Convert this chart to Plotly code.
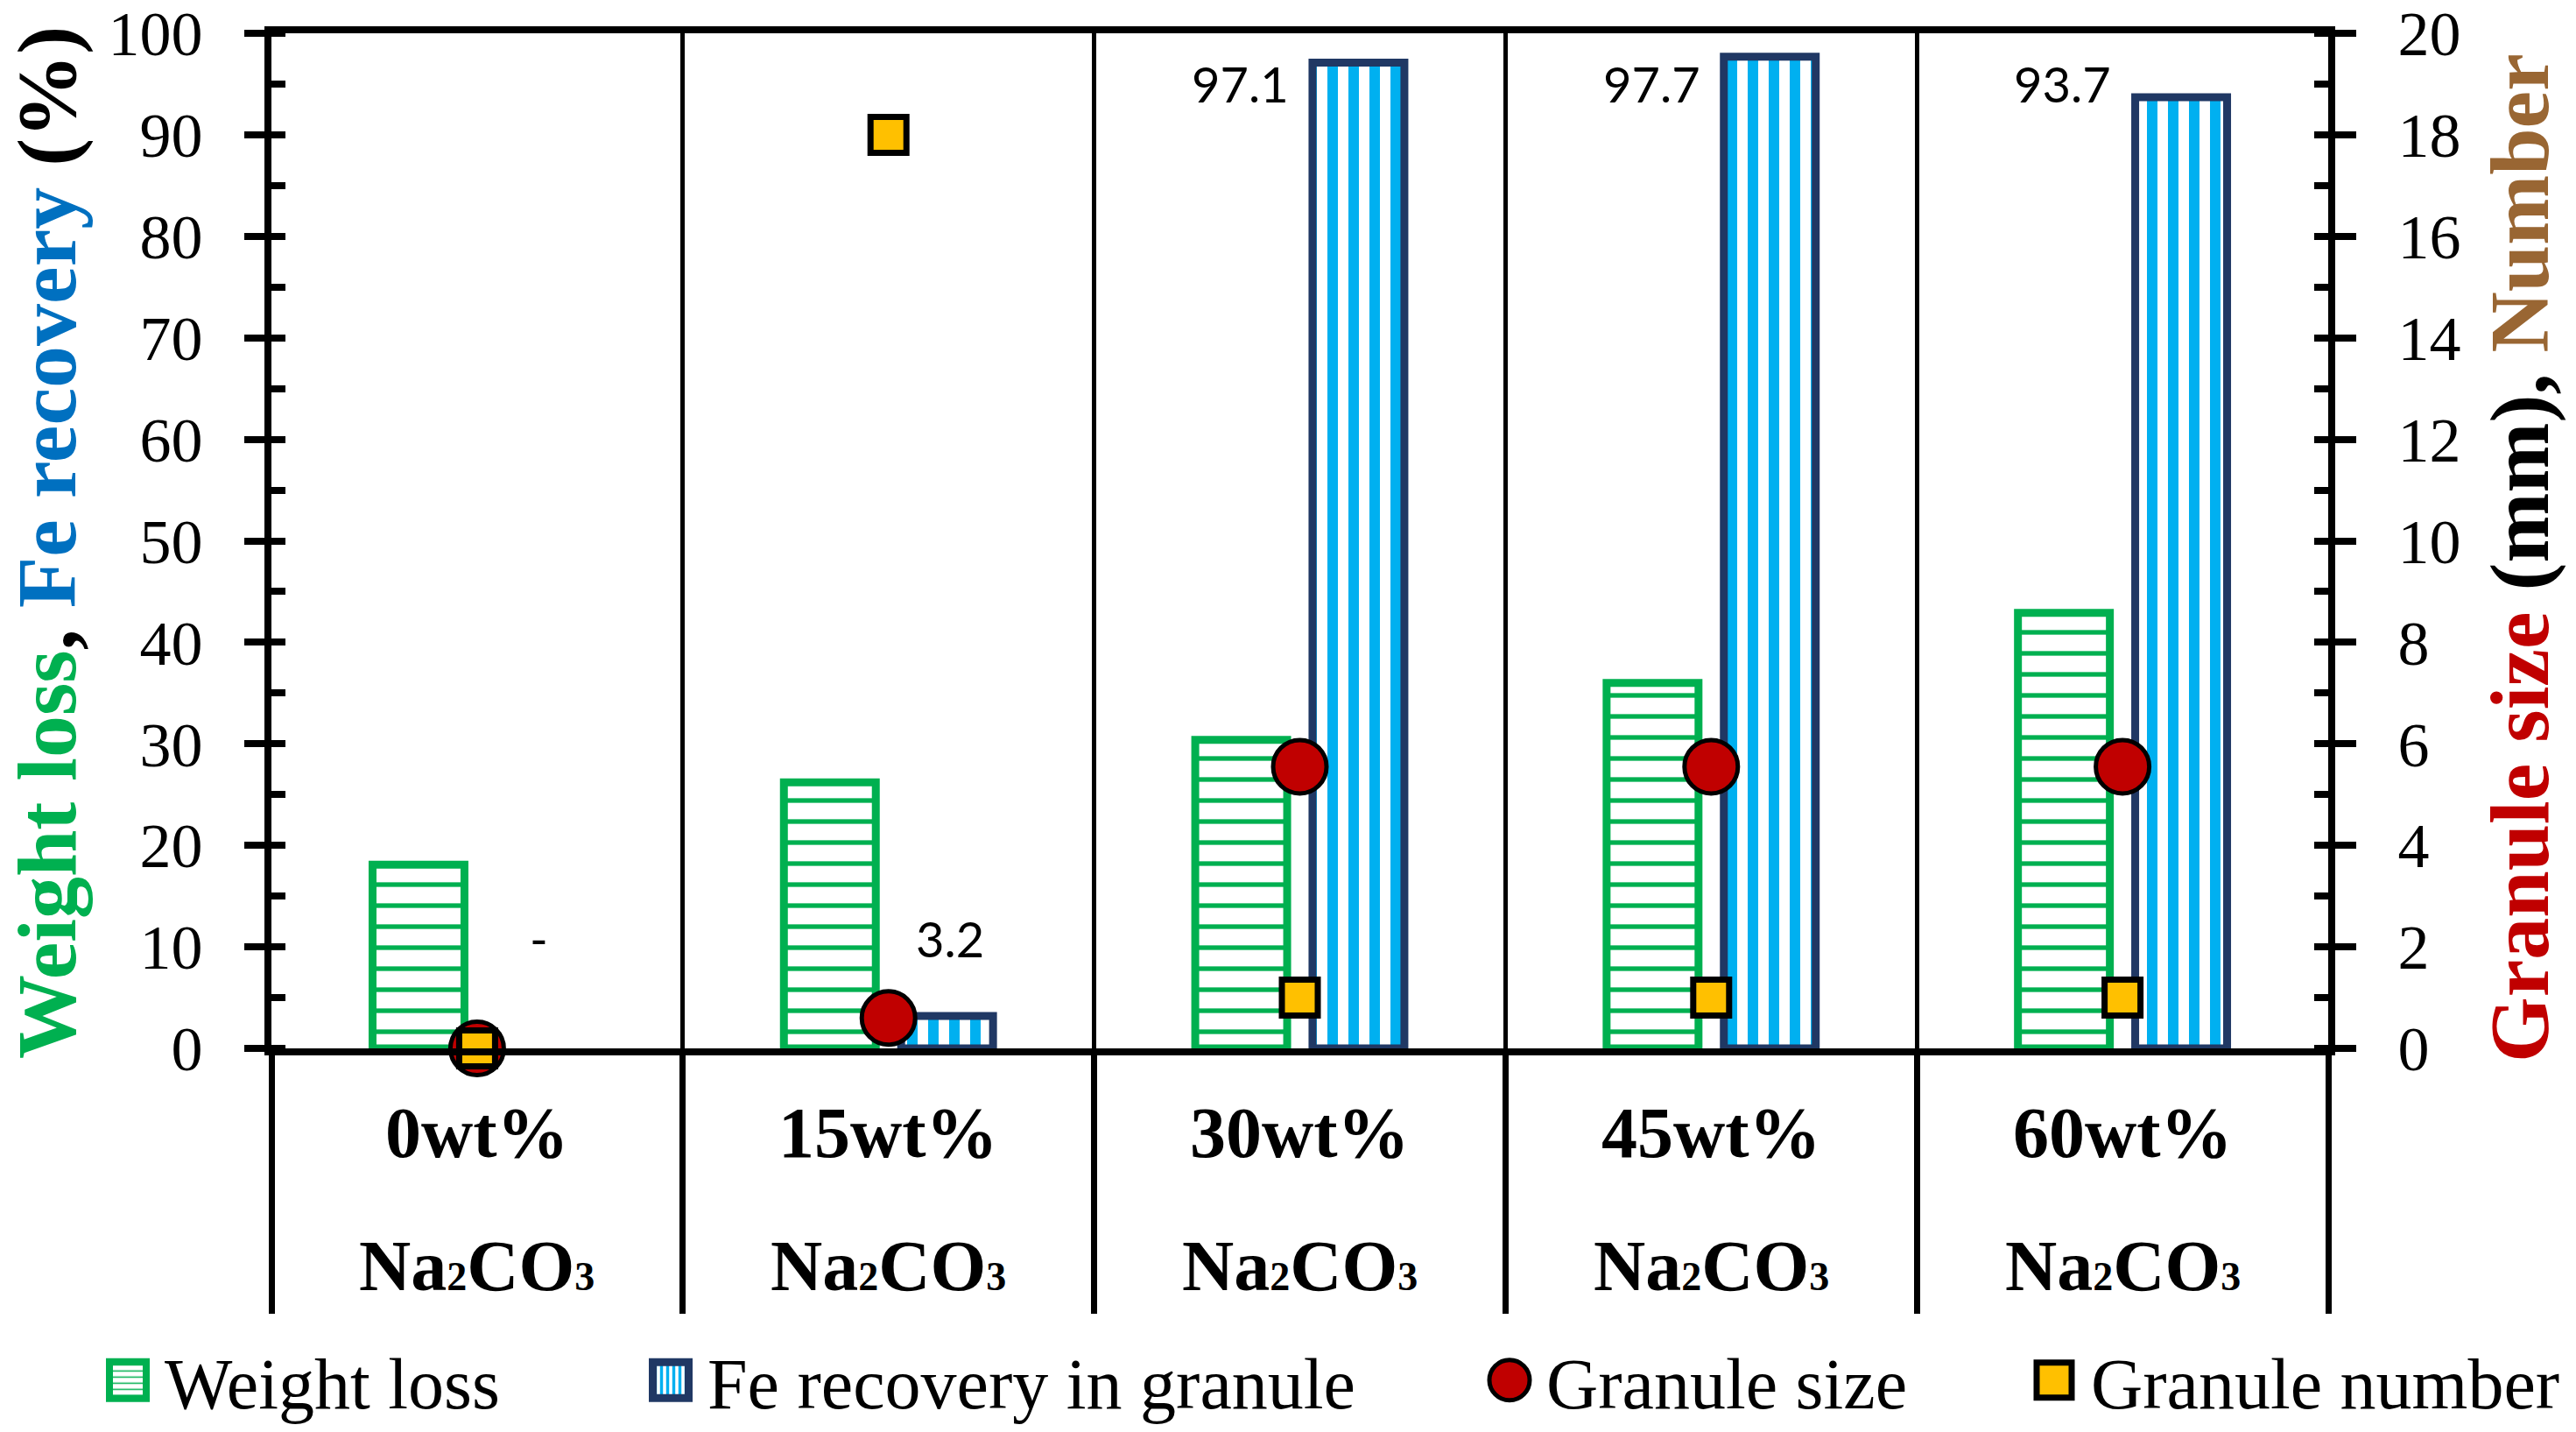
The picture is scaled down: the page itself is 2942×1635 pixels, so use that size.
import plotly.graph_objects as go

# ---------------- data ----------------
categories = ["0wt%", "15wt%", "30wt%", "45wt%", "60wt%"]
compound = 'Na<span style="font-size:46px">2</span>CO<span style="font-size:46px">3</span>'
weight_loss = [18.1, 26.2, 30.4, 36.0, 42.9]          # %
fe_recovery = [None, 3.2, 97.1, 97.7, 93.7]           # %
fe_labels = ["-", "3.2", "97.1", "97.7", "93.7"]
granule_size = [0.0, 0.6, 5.55, 5.55, 5.55]           # mm
granule_number = [0, 18, 1, 1, 1]

# ---------------- style ----------------
GREEN = "#00B050"
LBLUE = "#00B0F0"
NAVY = "#203864"
RED = "#C00000"
YELLOW = "#FFC000"
TBLUE = "#0070C0"
BROWN = "#996633"
SERIF = "Liberation Serif"
SANS = "Lato"

W, H = 2942, 1635
ML, MR, MT, MB = 310, 283, 38, 438
PW, PH = W - ML - MR, H - MT - MB


def px_x(px):
    return (px - ML) / PW


def px_y(py):
    return (H - MB - py) / PH


fig = go.Figure()

fig.add_trace(go.Bar(
    x=categories, y=weight_loss, name="Weight loss", legend="legend",
    marker=dict(color=GREEN,
                line=dict(color=GREEN, width=9),
                pattern=dict(shape="-", fgcolor=GREEN, bgcolor="white",
                             fgopacity=1, size=24, solidity=0.22)),
))
fig.add_trace(go.Bar(
    x=categories, y=fe_recovery, name="Fe recovery in granule", legend="legend2",
    marker=dict(color=LBLUE,
                line=dict(color=NAVY, width=9),
                pattern=dict(shape="|", fgcolor=LBLUE, bgcolor="white",
                             fgopacity=1, size=24, solidity=0.5)),
))
fig.add_trace(go.Scatter(
    x=categories, y=granule_size, yaxis="y2", mode="markers", name="Granule size",
    legend="legend3", cliponaxis=False,
    marker=dict(symbol="circle", size=61, color=RED, line=dict(color="black", width=5)),
))
fig.add_trace(go.Scatter(
    x=categories, y=granule_number, yaxis="y2", mode="markers", name="Granule number",
    legend="legend4", cliponaxis=False,
    marker=dict(symbol="square", size=41, color=YELLOW, line=dict(color="black", width=7)),
))

tickfont = dict(family=SERIF, size=72, color="black")

fig.update_layout(
    width=W, height=H,
    margin=dict(l=ML, r=MR, t=MT, b=MB, autoexpand=False),
    paper_bgcolor="white", plot_bgcolor="white",
    barmode="group", bargap=0.43, bargroupgap=0.216,
    showlegend=True,
    xaxis=dict(type="category", range=[-0.5, 4.5], tickson="boundaries",
               ticks="outside", ticklen=295, tickwidth=7, tickcolor="black",
               showgrid=True, gridcolor="black", gridwidth=5,
               showline=True, linewidth=8, linecolor="black", mirror=True,
               showticklabels=False, zeroline=False),
    yaxis=dict(range=[0, 100], tick0=0, dtick=10, ticks="outside", ticklen=23,
               tickwidth=8, tickcolor="black", showline=True, linewidth=8,
               linecolor="black", showgrid=False, zeroline=False,
               tickfont=tickfont, ticklabelstandoff=33, ticklabeloverflow="allow",
               minor=dict(ticks="inside", ticklen=16, tickwidth=8,
                          tickcolor="black", dtick=5, showgrid=False)),
    yaxis3=dict(overlaying="y", side="left", range=[0, 100], tick0=0, dtick=10,
                ticks="inside", ticklen=23, tickwidth=8, tickcolor="black",
                showticklabels=False, showline=False, showgrid=False, zeroline=False),
    yaxis2=dict(overlaying="y", side="right", range=[0, 20], tick0=0, dtick=2,
                ticks="outside", ticklen=24, tickwidth=8, tickcolor="black",
                showline=True, linewidth=8, linecolor="black",
                showgrid=False, zeroline=False, tickfont=tickfont,
                ticklabelstandoff=33, ticklabeloverflow="allow",
                minor=dict(ticks="inside", ticklen=16, tickwidth=8,
                           tickcolor="black", dtick=1, showgrid=False)),
    yaxis4=dict(overlaying="y", side="right", range=[0, 20], tick0=0, dtick=2,
                ticks="inside", ticklen=22, tickwidth=8, tickcolor="black",
                showticklabels=False, showline=False, showgrid=False, zeroline=False),
)

legend_common = dict(orientation="h", yanchor="middle", xanchor="left",
                     y=px_y(1576), bgcolor="rgba(0,0,0,0)", itemsizing="trace",
                     itemwidth=80,
                     font=dict(family=SERIF, size=82, color="black"))
fig.update_layout(
    legend=dict(x=px_x(191 - 93), **legend_common),
    legend2=dict(x=px_x(811 - 93), **legend_common),
    legend3=dict(x=px_x(1769 - 93), **legend_common),
    legend4=dict(x=px_x(2391 - 93), **legend_common),
)

annotations = []
# axis titles
annotations.append(dict(
    text=(f'<b><span style="color:{GREEN}">Weight loss</span>, '
          f'<span style="color:{TBLUE}">Fe recovery</span> (%)</b>'),
    xref="paper", yref="paper", x=px_x(53), y=px_y(620),
    xanchor="center", yanchor="middle", textangle=-90, showarrow=False,
    font=dict(family=SERIF, size=96, color="black")))
annotations.append(dict(
    text=(f'<b><span style="color:{RED}">Granule size</span> (mm), '
          f'<span style="color:{BROWN}">Number</span></b>'),
    xref="paper", yref="paper", x=px_x(2877), y=px_y(637),
    xanchor="center", yanchor="middle", textangle=-90, showarrow=False,
    font=dict(family=SERIF, size=96, color="black")))
# category labels (two rows)
for c in categories:
    annotations.append(dict(text=f"<b>{c}</b>", x=c, xref="x", yref="paper",
                            y=px_y(1293), yanchor="middle", showarrow=False,
                            font=dict(family=SERIF, size=82, color="black")))
    annotations.append(dict(text=f"<b>{compound}</b>", x=c, xref="x", yref="paper",
                            y=px_y(1445), yanchor="middle", showarrow=False,
                            font=dict(family=SERIF, size=82, color="black")))
# Fe recovery data labels
for i, (v, lab) in enumerate(zip(fe_recovery, fe_labels)):
    if v is None or v < 50:
        lx, ly = i + 0.15, 10.8
    else:
        lx, ly = i - 0.145, 95.0
    annotations.append(dict(text=lab, x=lx, y=ly, xref="x", yref="y",
                            xanchor="center", yanchor="middle", showarrow=False,
                            font=dict(family=SANS, size=56, color="black")))
fig.update_layout(annotations=annotations)

# Page tweaks: remove the default body margin and enlarge the legend swatches
post_js = r"""
document.body.style.margin = '0';
document.body.style.padding = '0';
var gd = document.getElementById('{plot_id}');
var SPEC = {
  'Weight loss': {size: 42, sw: 8, stroke: '#00B050'},
  'Fe recovery in granule': {size: 41, sw: 9, stroke: '#203864'},
  'Granule size': {size: 46, sw: 5, stroke: 'black'},
  'Granule number': {size: 40, sw: 7, stroke: 'black'}
};
var ORDER = ['Weight loss', 'Fe recovery in granule', 'Granule size', 'Granule number'];
function fixItem(it, idx) {
  var txt = it.querySelector('.legendtext') || it.querySelector('text');
  var sym = it.querySelector('.legendsymbols') || it.querySelector('.legendpoints');
  if (!txt || !sym) return;
  var nm = null;
  try { nm = it.__data__[0].trace.name; } catch (e) {}
  if (!nm || !SPEC[nm]) nm = (txt.textContent || '').replace(/\s+/g, ' ').trim();
  var sp = SPEC[nm] || SPEC[ORDER[idx % 4]];
  var tb = txt.getBBox();
  var bb = sym.getBBox();
  var bw = bb.width || 12;
  var s = sp.size / bw;
  var cx = bb.x + bw / 2, cy = bb.y + (bb.height || bw) / 2;
  sym.setAttribute('transform', 'translate(' + (tb.x - 42) + ',' + cy + ') scale(' + s +
                   ') translate(' + (-cx) + ',' + (-cy) + ')');
  var paths = sym.querySelectorAll('path');
  for (var j = 0; j < paths.length; j++) {
    var p = paths[j];
    p.style.vectorEffect = 'non-scaling-stroke';
    p.style.strokeWidth = sp.sw + 'px';
    p.style.stroke = sp.stroke;
    var f = p.style.fill || p.getAttribute('fill') || '';
    var m = f.match(/#([^'")\s]+)/);
    if (m && m[1].indexOf('-lg') < 0) {
      var pat = document.getElementById(m[1]);
      if (pat) {
        var cl = pat.cloneNode(true);
        cl.id = m[1] + '-lg' + idx;
        cl.setAttribute('patternTransform', 'scale(' + (0.7 / s) + ')');
        pat.parentNode.appendChild(cl);
        p.style.fill = 'url(#' + cl.id + ')';
      }
    }
  }
}
function bigSwatches() {
  if (!gd) return;
  var items = gd.querySelectorAll('g.traces');
  for (var i = 0; i < items.length; i++) {
    try { fixItem(items[i], i); } catch (e) { console.log(e); }
  }
}
bigSwatches();
if (gd && gd.on) { gd.on('plotly_afterplot', bigSwatches); }
var nRuns = 0;
var timer = setInterval(function () { bigSwatches(); nRuns++; if (nRuns > 30) clearInterval(timer); }, 100);
"""

fig.write_html("out.html", post_script=post_js,
               config={"displayModeBar": False, "responsive": False})
